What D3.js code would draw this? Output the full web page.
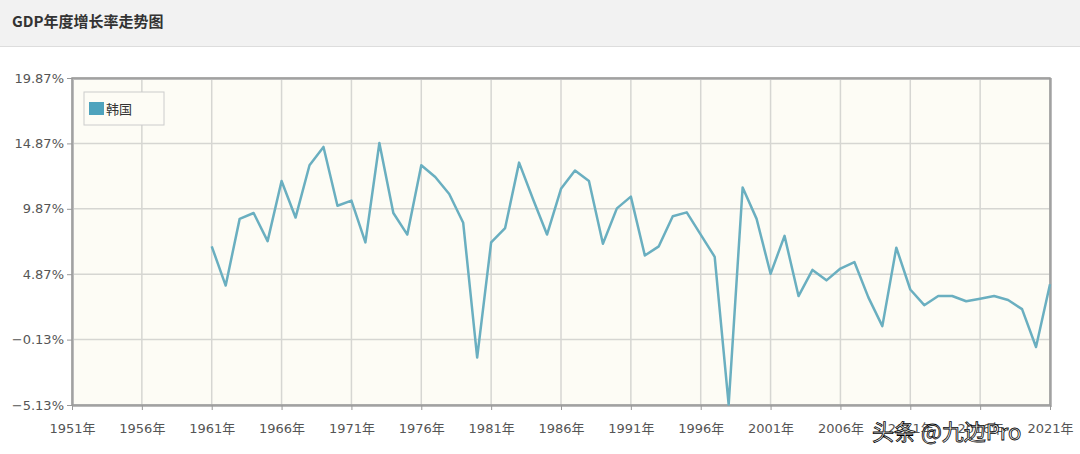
<!DOCTYPE html>
<html>
<head>
<meta charset="utf-8">
<script src="https://cdn.jsdelivr.net/npm/d3@7"></script>
<style>
body { margin:0; background:#fff; font-family:"Noto Sans CJK SC","DejaVu Sans",sans-serif; }
</style>
</head>
<body>
<script>
var years = d3.range(1961, 2022);
var growth = [7.0,4.0,9.1,9.55,7.4,12.0,9.2,13.2,14.6,10.1,
  10.5,7.3,14.9,9.55,7.9,13.2,12.3,11.0,8.8,-1.5,
  7.3,8.4,13.4,10.6,7.9,11.4,12.8,12.0,7.2,9.9,
  10.8,6.3,7.0,9.3,9.6,7.9,6.2,-5.1,11.5,9.1,
  4.9,7.8,3.2,5.2,4.4,5.3,5.8,3.1,0.9,6.9,
  3.7,2.5,3.2,3.2,2.8,3.0,3.2,2.9,2.2,-0.7,4.1];
var yTicks = [-5.13,-0.13,4.87,9.87,14.87,19.87];
var xTicks = d3.range(1951, 2022, 5);

var width = 1080, height = 454;
var svg = d3.select("body").append("svg").attr("width", width).attr("height", height);

svg.append("rect").attr("width", width).attr("height", 46).attr("fill", "#f2f2f2");
svg.append("line").attr("x1",0).attr("x2",width).attr("y1",46.5).attr("y2",46.5).attr("stroke","#ddd");
svg.append("text").attr("x",12).attr("y",27).text("GDP年度增长率走势图")
  .attr("font-size",15).attr("font-weight","bold").attr("fill","#333");

var pl = 72, pr = 1050, pt = 78, pb = 405;
var x = d3.scaleLinear().domain([1951, 2021]).range([pl, pr]);
var y = d3.scaleLinear().domain([-5.13, 19.87]).range([pb, pt]);

svg.append("rect").attr("x",pl).attr("y",pt).attr("width",pr-pl).attr("height",pb-pt)
  .attr("fill","#fdfcf5");

var grid = svg.append("g").attr("stroke","#d6d6d2").attr("stroke-width",1.5);
xTicks.forEach(function(t) {
  grid.append("line").attr("x1",x(t)).attr("x2",x(t)).attr("y1",pt).attr("y2",pb);
});
yTicks.forEach(function(t) {
  grid.append("line").attr("x1",pl).attr("x2",pr).attr("y1",y(t)).attr("y2",y(t));
});

svg.append("rect").attr("x",pl+1).attr("y",pt+1).attr("width",pr-pl).attr("height",pb-pt)
  .attr("fill","none").attr("stroke","#bbb").attr("stroke-width",2);
svg.append("rect").attr("x",pl).attr("y",pt).attr("width",pr-pl).attr("height",pb-pt)
  .attr("fill","none").attr("stroke","#999").attr("stroke-width",1.5);

var yAxis = svg.append("g").attr("transform","translate(" + pl + ",0)")
  .call(d3.axisLeft(y).tickValues(yTicks).tickSize(5).tickFormat(function(d){ return d3.format(".2f")(d) + "%"; }));
var xAxis = svg.append("g").attr("transform","translate(0," + pb + ")")
  .call(d3.axisBottom(x).tickValues(xTicks).tickSize(5).tickFormat(function(d){ return d + "年"; }));
[yAxis, xAxis].forEach(function(a) {
  a.select(".domain").remove();
  a.selectAll("line").attr("stroke","#999");
  a.selectAll("text").attr("fill","#555").attr("font-size",13)
    .attr("font-family","'DejaVu Sans', 'Noto Sans CJK SC', sans-serif");
});
xAxis.selectAll("text").attr("dy","1.5em");

var line = d3.line().x(function(d, i){ return x(years[i]); }).y(function(d){ return y(d); });
svg.append("path").datum(growth).attr("d", line).attr("fill","none")
  .attr("stroke","#6aafc0").attr("stroke-width",2.5).attr("stroke-linejoin","round");

var lg = svg.append("g").attr("transform","translate(84,92)");
lg.append("rect").attr("width",80).attr("height",33).attr("fill","#fdfcf5").attr("stroke","#ccc");
lg.append("rect").attr("x",5).attr("y",10).attr("width",15).attr("height",13).attr("fill","#4ea3bd");
lg.append("text").attr("x",22).attr("y",22).text("韩国").attr("font-size",13).attr("fill","#333");

svg.append("text").attr("x",872).attr("y",440).text("头条 @九边Pro")
  .attr("font-size",22).attr("fill","#fff").attr("stroke","#000").attr("stroke-width",0.8);
</script>
</body>
</html>
